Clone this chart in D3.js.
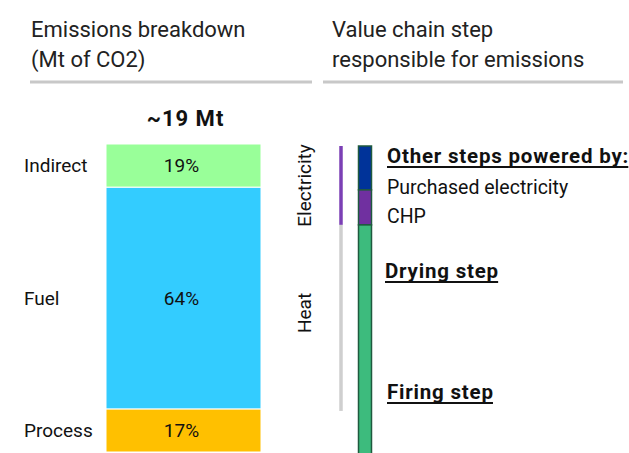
<!DOCTYPE html>
<html><head><meta charset="utf-8">
<script src="https://d3js.org/d3.v7.min.js"></script>
<style>
body{margin:0;background:#fff}
text{font-family:Roboto,"Liberation Sans",sans-serif;fill:#111}
</style></head>
<body><svg id="chart" width="629" height="453"></svg>
<script>
// ---- data ----
const categories = ["Indirect", "Fuel", "Process"];
const shareLabels = ["19%", "64%", "17%"];
// segment sizes as they appear in the picture (not drawn to scale in the source)
const segmentShareAsDrawn = [14, 72, 14];
const totalLabel = "~19 Mt";

const chainSteps = ["Purchased electricity", "CHP", "Heat"];
const chainShareAsDrawn = [14.3, 11.4, 74.3];

const bracketLabels = ["Electricity", "Heat"];
const bracketFrom = [100, 74.3];
const bracketTo = [74.3, 13.7];

const headers = [["Emissions breakdown", "(Mt of CO2)"], ["Value chain step", "responsible for emissions"]];
const stepTitles = ["Other steps powered by:", "Drying step", "Firing step"];

// ---- styles ----
const catColors = ["#99ff99", "#33ccff", "#ffc000"];
const chainColors = ["#003399", "#7030a0", "#3dbb7d"];
const bracketColors = ["#7b3fb5", "#cfcfcf"];

const svg = d3.select("#chart");

// headers
const headerX = [31, 332];
headers.forEach((lines, i) => {
  lines.forEach((l, j) => {
    svg.append("text").attr("x", headerX[i]).attr("y", 37 + j * 30)
      .style("font-size", "22px").style("fill", "#222").text(l);
  });
});
svg.append("line").attr("x1", 30).attr("x2", 312).attr("y1", 82).attr("y2", 82)
  .attr("stroke", "#c8c8c8").attr("stroke-width", 3);
svg.append("line").attr("x1", 323).attr("x2", 623).attr("y1", 82).attr("y2", 82)
  .attr("stroke", "#c8c8c8").attr("stroke-width", 3);

// ---- left stacked bar ----
const y = d3.scaleLinear().domain([0, 100]).range([452, 144]);
const x = d3.scaleBand().domain(["total"]).range([106, 261]).padding(0);

let acc = 0;
const stackData = categories.map((c, i) => ({ cat: c, label: shareLabels[i], v: segmentShareAsDrawn[i], color: catColors[i] }))
  .reverse()
  .map(d => { const o = { ...d, y0: acc, y1: acc + d.v }; acc += d.v; return o; });

svg.selectAll("rect.seg").data(stackData).join("rect")
  .attr("class", "seg")
  .attr("x", x("total")).attr("width", x.bandwidth())
  .attr("y", d => y(d.y1)).attr("height", d => y(d.y0) - y(d.y1))
  .attr("fill", d => d.color).attr("stroke", "#fff").attr("stroke-width", 1);

svg.selectAll("text.pct").data(stackData).join("text")
  .attr("class", "pct")
  .attr("x", x("total") + x.bandwidth() / 2 - 2)
  .attr("y", d => y((d.y0 + d.y1) / 2)).attr("dy", "0.35em")
  .attr("text-anchor", "middle").style("font-size", "19px").text(d => d.label);

svg.selectAll("text.cat").data(stackData).join("text")
  .attr("class", "cat")
  .attr("x", 24)
  .attr("y", d => y((d.y0 + d.y1) / 2)).attr("dy", "0.35em")
  .style("font-size", "19px").text(d => d.cat);

svg.append("text").attr("x", x("total") + x.bandwidth() / 2 + 2).attr("y", 126)
  .attr("text-anchor", "middle").style("font-size", "22px").style("font-weight", "bold")
  .style("letter-spacing", "1px")
  .text(totalLabel);

// ---- right value chain bar ----
const yR = d3.scaleLinear().domain([0, 100]).range([453, 146]);
let accR = 100;
const chainData = chainSteps.map((s, i) => { const o = { step: s, y1: accR, y0: accR - chainShareAsDrawn[i], color: chainColors[i] }; accR -= chainShareAsDrawn[i]; return o; });

svg.selectAll("rect.chain").data(chainData).join("rect")
  .attr("class", "chain")
  .attr("x", 358.5).attr("width", 13)
  .attr("y", d => yR(d.y1)).attr("height", d => yR(d.y0) - yR(d.y1) + (d.y0 <= 0.5 ? 4 : 0))
  .attr("fill", d => d.color).attr("stroke", "#1f5a3e").attr("stroke-width", 1.5);

// brackets
const bracketData = bracketLabels.map((l, i) => ({ label: l, from: bracketFrom[i], to: bracketTo[i], color: bracketColors[i] }));
svg.selectAll("line.br").data(bracketData).join("line")
  .attr("class", "br")
  .attr("x1", 341).attr("x2", 341)
  .attr("y1", d => yR(d.from)).attr("y2", d => yR(d.to))
  .attr("stroke", d => d.color).attr("stroke-width", 3.5);

svg.selectAll("text.br").data(bracketData).join("text")
  .attr("class", "br")
  .attr("transform", (d, i) => `translate(304,${yR((d.from + d.to) / 2) - (i === 1 ? 5 : 0)}) rotate(-90)`)
  .attr("text-anchor", "middle").attr("dy", "0.35em")
  .style("font-size", "19px").text(d => d.label);

// step annotations
const annot = [
  { t: stepTitles[0], y: 163, bold: true },
  { t: chainSteps[0], y: 194, bold: false },
  { t: chainSteps[1], y: 223, bold: false },
  { t: stepTitles[1], y: 278, bold: true, x: 385 },
  { t: stepTitles[2], y: 399, bold: true }
];
const annT = svg.selectAll("text.ann").data(annot).join("text")
  .attr("class", "ann")
  .attr("x", d => d.x || 387).attr("y", d => d.y)
  .style("font-size", d => d.bold ? "20.5px" : "19.5px")
  .style("font-weight", d => d.bold ? "bold" : "normal")
  .style("letter-spacing", d => d.bold ? "0.8px" : "0px")
  .text(d => d.t);

// manual underlines for bold step titles
annT.filter(d => d.bold).each(function (d) {
  const bb = this.getBBox();
  svg.append("line")
    .attr("x1", bb.x).attr("x2", bb.x + bb.width - 0.8)
    .attr("y1", d.y + 4).attr("y2", d.y + 4)
    .attr("stroke", "#111").attr("stroke-width", 2);
});
</script></body></html>
